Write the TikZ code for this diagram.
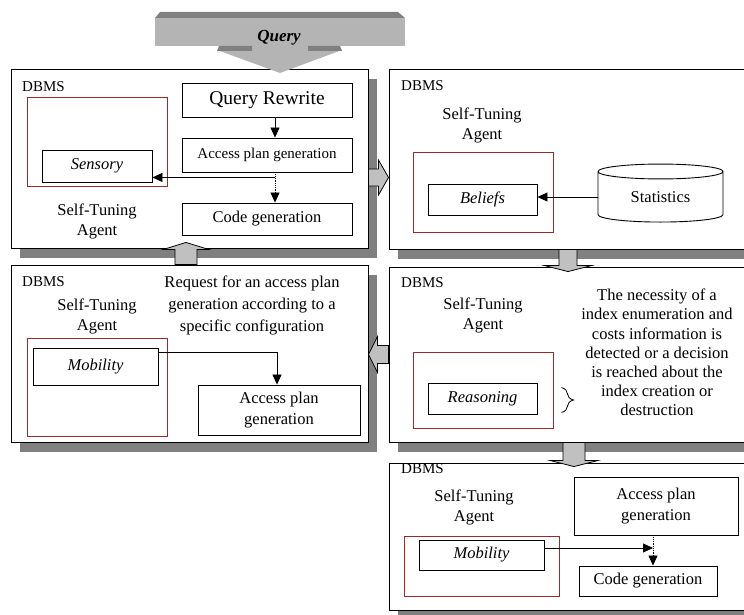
\documentclass[tikz,border=0pt]{standalone}
\usepackage{fontspec}
\setmainfont{Liberation Serif}
\usetikzlibrary{arrows.meta,shadows,shapes.geometric,decorations.pathreplacing,calc}

\begin{document}
\begin{tikzpicture}[x=1pt,y=-1pt]
    % ===================================
    % 設定
    % ===================================
    \def\fs{16.5}  % 本文の文字サイズ
    \definecolor{agentred}{RGB}{160,40,40}
    \definecolor{shadowgray}{RGB}{128,128,128}
    \definecolor{arrowgray}{RGB}{192,192,192}
    \definecolor{bannergray}{RGB}{180,180,180}

    \tikzset{
        panel/.style={draw, fill=white, line width=0.9pt, inner sep=0pt,
            drop shadow={shadow xshift=9pt, shadow yshift=-10pt, fill=shadowgray, opacity=1}},
        redframe/.style={draw=agentred, line width=0.9pt, inner sep=0pt},
        box/.style={draw, fill=white, line width=0.9pt, inner sep=0pt, align=center,
            font=\fontsize{\fs}{21}\selectfont},
        it/.style={font=\fontsize{\fs}{20}\selectfont\itshape},
        txt/.style={inner sep=0pt, align=center, font=\fontsize{\fs}{20}\selectfont},
        dbms/.style={anchor=west, inner sep=0pt, font=\fontsize{15}{18}\selectfont},
        drum/.style={draw, fill=white, line width=0.9pt, cylinder, shape border rotate=90,
            aspect=0.25, inner sep=0pt, font=\fontsize{\fs}{20}\selectfont},
        arr/.style={line width=0.8pt, -{Triangle[length=10pt,width=9pt]}},
        blockarr/.style={draw, line width=0.8pt, fill=arrowgray}
    }
    % ===================================

    \useasboundingbox (0,0) rectangle (744,615);
    \clip (0,0) rectangle (744,615);

    % 1. パネル (DBMS)
    \node[panel, minimum width=357pt, minimum height=179pt] (p1) at (189.5,158.5) {};
    \node[panel, minimum width=381pt, minimum height=180pt] (p2) at (579.5,159) {};
    \node[panel, minimum width=357pt, minimum height=177pt] (p4) at (189.5,353.5) {};
    \node[panel, minimum width=381pt, minimum height=175pt] (p3) at (579.5,354.5) {};
    \node[panel, minimum width=381pt, minimum height=147pt] (p5) at (579.5,536.5) {};

    % 2. 左上: Sensory
    \node[dbms] (d1) at (22,87) {DBMS};
    \node[redframe, minimum width=140pt, minimum height=89pt] (a1) at (97,141.5) {};
    \node[box, it, minimum width=110pt, minimum height=32pt] (sen) at (97,166) {Sensory};
    \node[txt] (st1) at (97,221) {Self-Tuning\\Agent};
    \node[box, font=\fontsize{19.5}{22}\selectfont, minimum width=170pt, minimum height=34pt] (qr) at (267,100) {Query Rewrite};
    \node[box, font=\fontsize{15}{18}\selectfont, minimum width=170pt, minimum height=34pt] (apg1) at (267,155) {Access plan generation};
    \node[box, minimum width=170pt, minimum height=32pt] (cg1) at (267,219) {Code generation};
    \draw[arr] ([xshift=8pt]qr.south) -- ([xshift=8pt]apg1.north);
    \draw[arr, densely dotted] ([xshift=8pt]apg1.south) -- ([xshift=8pt]cg1.north);
    \coordinate (tap1) at ($([xshift=8pt]apg1.south)+(0,5)$);
    \draw[arr] (tap1) -- (tap1 -| sen.east);

    % 3. 右上: Beliefs
    \node[dbms] (d2) at (401,86) {DBMS};
    \node[txt] (st2) at (482,125) {Self-Tuning\\Agent};
    \node[redframe, minimum width=140pt, minimum height=80pt] (a2) at (483,192) {};
    \node[box, it, minimum width=109pt, minimum height=31pt] (bel) at (482.5,199.5) {Beliefs};
    \node[drum, minimum width=125pt, minimum height=58pt] (stat) at (660.5,197) {Statistics};
    \draw[arr] (stat.west) -- (stat.west -| bel.east);

    % 4. 左中: Mobility
    \node[dbms] (d4) at (22,282) {DBMS};
    \node[txt] (st4) at (97,316) {Self-Tuning\\Agent};
    \node[txt, font=\fontsize{\fs}{22}\selectfont] (req) at (252,305)
        {Request for an access plan\\generation according to a\\specific configuration};
    \node[redframe, minimum width=140pt, minimum height=98pt] (a4) at (97,387) {};
    \node[box, it, minimum width=125pt, minimum height=37pt] (mob4) at (95.5,366.5) {Mobility};
    \node[box, minimum width=162pt, minimum height=50pt] (apg4) at (279,410) {Access plan\\generation};
    \draw[arr] ([yshift=14pt]mob4.east) -| ([xshift=-2pt]apg4.north);

    % 5. 右中: Reasoning
    \node[dbms] (d3) at (401,283) {DBMS};
    \node[txt] (st3) at (483,315.5) {Self-Tuning\\Agent};
    \node[redframe, minimum width=140pt, minimum height=76pt] (a3) at (483,390) {};
    \node[box, it, minimum width=109pt, minimum height=31pt] (rea) at (482.5,398.5) {Reasoning};
    \node[txt, font=\fontsize{\fs}{19.2}\selectfont] (nec) at (657,352.5)
        {The necessity of a\\index enumeration and\\costs information is\\detected or a decision\\is reached about the\\index creation or\\destruction};
    \draw[line width=0.8pt, decorate, decoration={brace, amplitude=12pt}]
        ($(rea.north east)+(24,5)$) -- ($(rea.south east)+(24,-2)$);

    % 6. 右下: Mobility
    \node[dbms] (d5) at (401,469) {DBMS};
    \node[txt] (st5) at (474,507) {Self-Tuning\\Agent};
    \node[redframe, minimum width=155pt, minimum height=60pt] (a5) at (481.5,566) {};
    \node[box, it, minimum width=125pt, minimum height=30pt] (mob5) at (481.5,555) {Mobility};
    \node[box, minimum width=164pt, minimum height=58pt] (apg5) at (656,506) {Access plan\\generation};
    \node[box, minimum width=138pt, minimum height=30pt] (cg5) at (648,581) {Code generation};
    \coordinate (tap5) at ([xshift=-3pt]apg5.south);
    \draw[arr, densely dotted] (tap5) -- (tap5 |- cg5.north);
    \draw[arr] ([yshift=7pt]mob5.east) -- ([yshift=7pt]mob5.east -| tap5);

    % 7. パネル間の太矢印
    % p1 -> p2
    \coordinate (ra) at ($(p1.east)+(0,19)$);
    \draw[blockarr] ($(ra)+(0,-8.5)$) -- ++(10,0) -- ++(0,-9) -- (ra -| p2.west)
        -- ($(ra)+(10,17.5)$) -- ++(0,-9) -- ++(-10,0) -- cycle;
    % p3 -> p4
    \coordinate (la) at (p3.west);
    \draw[blockarr] ($(la)+(0,-9)$) -- ++(-11,0) -- ++(0,-9) -- (la -| p4.east)
        -- ($(la)+(-11,18)$) -- ++(0,-9) -- ++(11,0) -- cycle;
    % p4 -> p1
    \coordinate (ua) at ($(p4.north)+(-3.5,0)$);
    \draw[blockarr] ($(ua)+(-11,0)$) -- ++(0,-15) -- ++(-12,0) -- ($(ua |- p1.south)+(0,-6)$)
        -- ($(ua)+(23,-15)$) -- ++(-12,0) -- ++(0,15) -- cycle;
    % p2 -> p3
    \coordinate (da) at ($(p2.south)+(-11.5,0)$);
    \draw[blockarr] ($(da)+(-9,0)$) -- ++(0,16) -- ++(-15,0) -- ($(da |- p3.north)+(0,5)$)
        -- ($(da)+(24,16)$) -- ++(-15,0) -- ++(0,-16) -- cycle;
    % p3 -> p5
    \coordinate (dc) at ($(p3.south)+(-5.5,0)$);
    \draw[blockarr] ($(dc)+(-11,0)$) -- ++(0,18) -- ++(-13,0) -- ($(dc |- p5.north)+(0,4)$)
        -- ($(dc)+(24,18)$) -- ++(-13,0) -- ++(0,-18) -- cycle;

    % 8. Query (上の立体矢印)
    \fill[shadowgray] (160,12) -- (398,12) -- (405,18) -- (155,18) -- cycle;
    \fill[bannergray] (155,18) rectangle (405,46);
    \fill[bannergray] (252,46) rectangle (308,51);
    \fill[bannergray] (217,50) -- (342,50) -- (280,73) -- cycle;
    \fill[shadowgray] (219,46) -- (252,46) -- (252,51) -- (217,51) -- cycle;
    \fill[shadowgray] (308,46) -- (340,46) -- (342,51) -- (308,51) -- cycle;
    \node[font=\fontsize{17}{20}\selectfont\bfseries\itshape] (q) at (279,38) {Query};

\end{tikzpicture}
\end{document}
